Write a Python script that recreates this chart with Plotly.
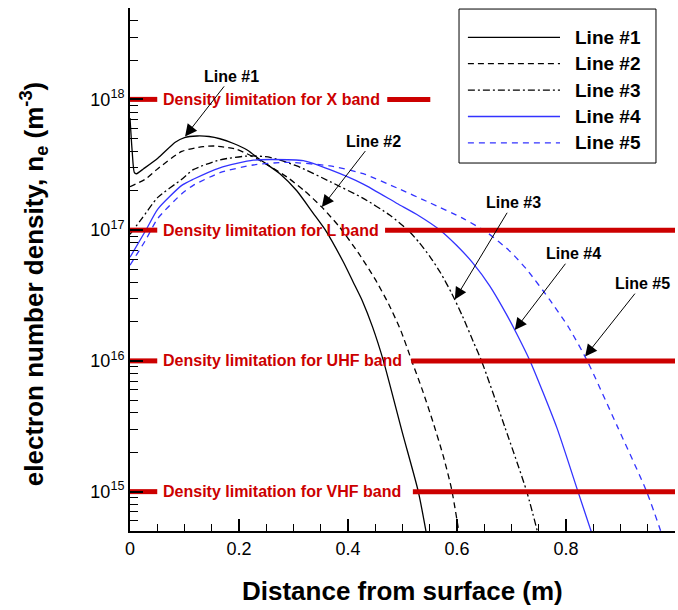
import plotly.graph_objects as go
import math

# ---------------- data ----------------
x1 = [0, 0.004, 0.008, 0.012, 0.025, 0.051, 0.083, 0.10, 0.123, 0.145, 0.165, 0.19, 0.215,
      0.239, 0.275, 0.306, 0.336, 0.36, 0.391, 0.409, 0.426, 0.445, 0.465, 0.50, 0.529, 0.545]
n1 = [7.2e17, 4.0e17, 2.75e17, 2.7e17, 2.95e17, 3.55e17, 4.7e17, 5.1e17, 5.25e17, 5.2e17, 5.0e17,
      4.6e17, 4.1e17, 3.45e17, 2.7e17, 2.0e17, 1.35e17, 9.8e16, 5.75e16, 4.05e16, 2.9e16, 1.82e16,
      1.0e16, 2.8e15, 1.0e15, 4.5e14]

x2 = [0, 0.028, 0.051, 0.095, 0.134, 0.155, 0.196, 0.239, 0.288, 0.32, 0.352, 0.385, 0.42,
      0.45, 0.475, 0.497, 0.517, 0.537, 0.556, 0.575, 0.59, 0.605]
n2 = [2.15e17, 2.45e17, 2.95e17, 4.0e17, 4.35e17, 4.4e17, 4.15e17, 3.4e17, 2.55e17, 2.0e17,
      1.5e17, 1.05e17, 6.6e16, 4.2e16, 2.7e16, 1.7e16, 1.0e16, 5.9e15, 3.4e15, 1.86e15, 1.05e15, 4.5e14]

x3 = [0, 0.022, 0.051, 0.095, 0.116, 0.165, 0.22, 0.257, 0.306, 0.367, 0.428, 0.477, 0.51,
      0.53, 0.55, 0.57, 0.59, 0.61, 0.63, 0.645, 0.688, 0.728, 0.752]
n3 = [9.3e16, 1.23e17, 1.78e17, 2.45e17, 2.9e17, 3.45e17, 3.7e17, 3.6e17, 3.1e17, 2.35e17,
      1.75e17, 1.3e17, 1.0e17, 8.1e16, 6.3e16, 4.7e16, 3.3e16, 2.2e16, 1.4e16, 1.0e16,
      3.1e15, 1.0e15, 4.2e14]

x4 = [0, 0.028, 0.051, 0.095, 0.116, 0.165, 0.226, 0.257, 0.318, 0.367, 0.428, 0.49, 0.53,
      0.569, 0.60, 0.63, 0.66, 0.69, 0.71, 0.734, 0.783, 0.822, 0.852]
n4 = [6.2e16, 9.8e16, 1.45e17, 2.2e17, 2.45e17, 3.0e17, 3.43e17, 3.47e17, 3.4e17, 2.9e17,
      2.25e17, 1.6e17, 1.29e17, 1.0e17, 7.6e16, 5.55e16, 3.75e16, 2.3e16, 1.6e16, 1.0e16,
      3.1e15, 1.0e15, 4.2e14]

x5 = [0, 0.028, 0.051, 0.095, 0.116, 0.165, 0.226, 0.288, 0.367, 0.428, 0.49, 0.55, 0.611,
      0.655, 0.697, 0.728, 0.771, 0.805, 0.839, 0.895, 0.948, 0.98]
n5 = [5.4e16, 8.3e16, 1.23e17, 1.9e17, 2.2e17, 2.75e17, 3.15e17, 3.3e17, 3.1e17, 2.7e17,
      2.1e17, 1.62e17, 1.23e17, 9.6e16, 6.9e16, 5.0e16, 2.9e16, 1.8e16, 1.0e16, 3.1e15, 1.0e15, 4.2e14]

series_names = ["Line #1", "Line #2", "Line #3", "Line #4", "Line #5"]

limit_values = [1e18, 1e17, 1e16, 1e15]
limit_labels = ["Density limitation for X band", "Density limitation for L band",
                "Density limitation for UHF band", "Density limitation for VHF band"]

ytick_vals = [1e15, 1e16, 1e17, 1e18]
ytick_text = ["10<sup>15</sup>", "10<sup>16</sup>", "10<sup>17</sup>", "10<sup>18</sup>"]
xtick_vals = [0, 0.2, 0.4, 0.6, 0.8, 1]
xtick_text = ["0", "0.2", "0.4", "0.6", "0.8", "1"]

# annotation arrow tips (on curves) and label positions
arrow_tip_x = [0.101, 0.352, 0.596, 0.706, 0.835]
arrow_tip_n = [5.2e17, 1.5e17, 2.95e16, 1.72e16, 1.08e16]
label_x = [0.187, 0.446, 0.703, 0.813, 0.941]
label_n = [1.5e18, 4.8e17, 1.62e17, 6.6e16, 3.9e16]

# ---------------- styles ----------------
FONT = "Liberation Sans, Arial, Helvetica, sans-serif"
RED = "#cc0000"
BLUE = "#3333ff"
styles = [
    dict(color="black", width=1.3, dash="solid"),
    dict(color="black", width=1.3, dash="6px,4px"),
    dict(color="black", width=1.3, dash="7px,3px,2px,3px"),
    dict(color=BLUE, width=1.3, dash="solid"),
    dict(color=BLUE, width=1.3, dash="6px,5px"),
]
xs = [x1, x2, x3, x4, x5]
ns = [n1, n2, n3, n4, n5]

fig = go.Figure()
for name, x, n, st in zip(series_names, xs, ns, styles):
    fig.add_trace(go.Scatter(x=x, y=n, mode="lines", name=name,
                             line=dict(**st, shape="spline", smoothing=0.6),
                             showlegend=False))

# red limit lines: short stub at the axis + long segment after the label
left_stub_end = 0.05
right_seg_start = [0.472, 0.468, 0.516, 0.519]
right_seg_end = [0.551, 1.0, 1.0, 1.0]
for v, s0, s1 in zip(limit_values, right_seg_start, right_seg_end):
    fig.add_trace(go.Scatter(x=[0, left_stub_end], y=[v, v], mode="lines",
                             line=dict(color=RED, width=5), showlegend=False, hoverinfo="skip"))
    fig.add_trace(go.Scatter(x=[s0, s1], y=[v, v], mode="lines",
                             line=dict(color=RED, width=5), showlegend=False, hoverinfo="skip"))

annotations = []
for v, lab in zip(limit_values, limit_labels):
    annotations.append(dict(x=0.057, y=math.log10(v), xref="x", yref="y", text="<b>" + lab + "</b>",
                            showarrow=False, xanchor="left", yanchor="middle",
                            font=dict(family=FONT, size=16, color=RED)))

for name, tx, tn, lx, ln in zip(series_names, arrow_tip_x, arrow_tip_n, label_x, label_n):
    annotations.append(dict(x=tx, y=math.log10(tn), xref="x", yref="y",
                            ax=lx, ay=math.log10(ln), axref="x", ayref="y",
                            text="<b>" + name + "</b>", showarrow=True,
                            arrowhead=2, arrowsize=2.4, arrowwidth=1, arrowcolor="black",
                            font=dict(family=FONT, size=16, color="black")))

# axis titles
annotations.append(dict(x=0.5, y=0, xref="paper", yref="paper", yanchor="top", xanchor="center",
                        yshift=-43, showarrow=False, text="<b>Distance from surface (m)</b>",
                        font=dict(family=FONT, size=26, color="black")))
annotations.append(dict(x=0, y=0.472, xref="paper", yref="paper", xanchor="center", yanchor="middle",
                        xshift=-96, showarrow=False, textangle=-90,
                        text="<b>electron number density, n<sub>e</sub> (m<sup>-3</sup>)</b>",
                        font=dict(family=FONT, size=26, color="black")))

# custom legend box
shapes = [dict(type="rect", xref="paper", yref="paper", x0=0.6037, x1=0.9651, y0=0.7036, y1=0.998,
               line=dict(color="black", width=1), fillcolor="white", layer="above")]
legend_rows = [0.944, 0.8935, 0.843, 0.7925, 0.742]
for name, st, ry in zip(series_names, styles, legend_rows):
    shapes.append(dict(type="line", xref="paper", yref="paper", x0=0.620, x1=0.789, y0=ry, y1=ry,
                       line=dict(color=st["color"], width=st["width"], dash=st["dash"]), layer="above"))
    annotations.append(dict(x=0.813, y=ry, xref="paper", yref="paper", xanchor="left", yanchor="middle",
                            showarrow=False, text="<b>" + name + "</b>",
                            font=dict(family=FONT, size=19, color="black")))

fig.update_layout(
    width=678, height=610,
    margin=dict(l=130, r=3, t=8, b=79),
    paper_bgcolor="white", plot_bgcolor="white",
    font=dict(family=FONT, color="black"),
    annotations=annotations, shapes=shapes,
    showlegend=False,
)
fig.update_xaxes(
    range=[0, 1], showgrid=False, zeroline=False, showline=True, linecolor="black", linewidth=2,
    ticks="inside", ticklen=12, tickwidth=2, tickcolor="black",
    tickvals=xtick_vals, ticktext=xtick_text, tickfont=dict(family=FONT, size=18, color="black"),
    minor=dict(ticks="inside", ticklen=7, tickwidth=1, tickcolor="black", dtick=0.05, showgrid=False),
    automargin=False,
)
minor_y = [m * 10 ** e for e in range(14, 19) for m in range(2, 10) if 5e14 <= m * 10 ** e <= 5e18]
fig.update_yaxes(
    type="log", range=[math.log10(5e14), math.log10(5e18)], showgrid=False, zeroline=False,
    showline=True, linecolor="black", linewidth=2,
    ticks="inside", ticklen=13, tickwidth=2, tickcolor="black",
    tickvals=ytick_vals, ticktext=ytick_text, tickfont=dict(family=FONT, size=18, color="black"),
    minor=dict(ticks="inside", ticklen=8, tickwidth=1, tickcolor="black", tickvals=minor_y, showgrid=False),
    automargin=False,
)

fig.write_html("out.html", config={"displayModeBar": False},
               post_script="document.body.style.margin='0';document.body.style.overflow='hidden';")
